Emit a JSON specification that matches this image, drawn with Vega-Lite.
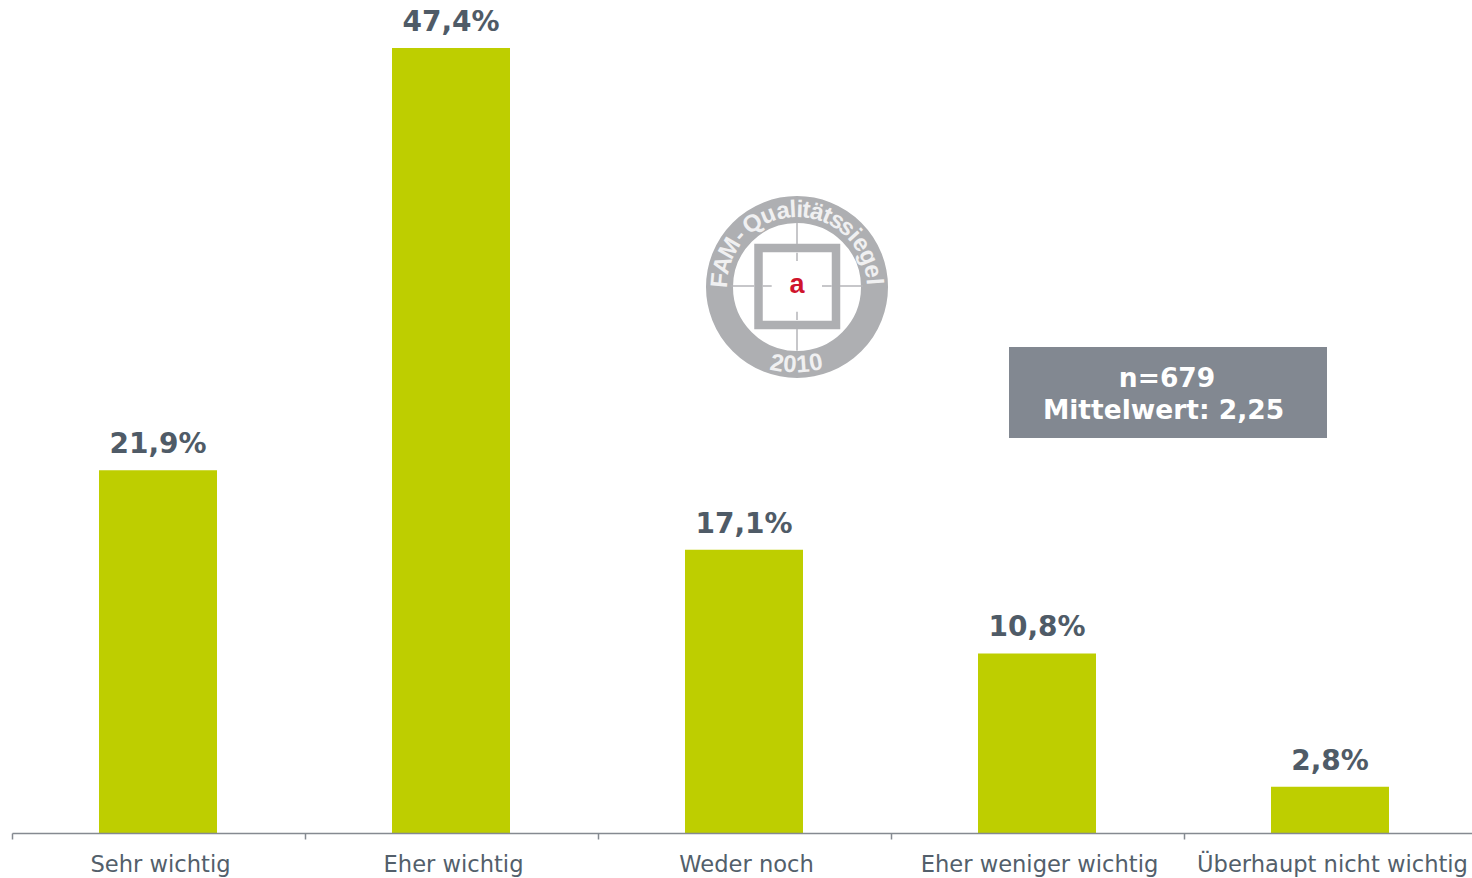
{"$schema":"https://vega.github.io/schema/vega-lite/v6.json","width":1472,"height":833,"autosize":{"type":"none"},"padding":{"left":0,"top":0,"right":0,"bottom":45},"background":"white","config":{"view":{"stroke":null},"text":{"font":"DejaVu Sans"}},
"datasets":{
"bars":[{"category":"Sehr wichtig","share":21.9,"label":"21,9%"},{"category":"Eher wichtig","share":47.4,"label":"47,4%"},{"category":"Weder noch","share":17.1,"label":"17,1%"},{"category":"Eher weniger wichtig","share":10.84,"label":"10,8%"},{"category":"Überhaupt nicht wichtig","share":2.8,"label":"2,8%"}],
"box":[{"gx":1009,"gx2":1327,"gy":347,"gy2":438}],
"boxText":[{"gx":1167,"gy":379,"t":"n=679"},{"gx":1163.5,"gy":411,"t":"Mittelwert: 2,25"}],
"ring":[{"gx":797,"gy":287}],
"square":[{"gx":758.5,"gx2":836,"gy":248,"gy2":325}],
"cross":[{"gx":797,"gx2":797,"gy":223,"gy2":244},{"gx":797,"gx2":797,"gy":252.7,"gy2":261},{"gx":797,"gx2":797,"gy":311.7,"gy2":320},{"gx":797,"gx2":797,"gy":329,"gy2":350.7},{"gx":730.7,"gx2":754,"gy":286,"gy2":286},{"gx":762.7,"gx2":771.7,"gy":286,"gy2":286},{"gx":822,"gx2":831.7,"gy":286,"gy2":286},{"gx":840,"gx2":863,"gy":286,"gy2":286}],
"letters":[{"t":"F","gx":720.3,"gy":280.3,"rot":-85},{"t":"A","gx":723.2,"gy":265.1,"rot":-73.5},{"t":"M","gx":730.3,"gy":248.5,"rot":-60},{"t":"-","gx":739.8,"gy":235.5,"rot":-48},{"t":"Q","gx":752.8,"gy":223.9,"rot":-35},{"t":"u","gx":768.2,"gy":215.6,"rot":-22},{"t":"a","gx":783,"gy":211.3,"rot":-10.5},{"t":"l","gx":793,"gy":210.1,"rot":-3},{"t":"i","gx":799.7,"gy":210.1,"rot":2},{"t":"t","gx":806.4,"gy":210.6,"rot":7},{"t":"ä","gx":816.9,"gy":212.6,"rot":15},{"t":"t","gx":827.1,"gy":216.1,"rot":23},{"t":"s","gx":836.7,"gy":221,"rot":31},{"t":"s","gx":846.5,"gy":228,"rot":40},{"t":"i","gx":854.2,"gy":235.5,"rot":48},{"t":"e","gx":860.8,"gy":244,"rot":56},{"t":"g","gx":867.9,"gy":256.9,"rot":67},{"t":"e","gx":872.3,"gy":271,"rot":78},{"t":"l","gx":873.8,"gy":281.6,"rot":86},{"t":"2","gx":777,"gy":364,"rot":11},{"t":"0","gx":790,"gy":365,"rot":4},{"t":"1","gx":803,"gy":365,"rot":-4},{"t":"0","gx":816,"gy":363,"rot":-11}],
"redA":[{"gx":797,"gy":285,"t":"a"}]
},
"resolve":{"scale":{"x":"independent","y":"independent"},"axis":{"x":"independent","y":"independent"}},
"layer":[
{"data":{"name":"bars"},"mark":{"type":"bar","size":118,"color":"#bece00","xOffset":-0.5},"encoding":{
"x":{"field":"category","type":"nominal","sort":null,"scale":{"range":[12,1477],"paddingInner":0,"paddingOuter":0},"axis":{"title":null,"labelAngle":0,"labelFont":"DejaVu Sans","labelFontSize":22.6,"labelColor":"#535f6b","labelPadding":14,"labelOffset":1.5,"labelLimit":400,"labelOverlap":false,"tickBand":"extent","tickSize":6,"tickColor":"#858a91","tickWidth":1.5,"domainColor":"#858a91","domainWidth":1.5,"grid":false,"zindex":1}},
"y":{"field":"share","type":"quantitative","scale":{"domain":[0,47.4],"range":[833,48]},"axis":null}}},
{"data":{"name":"bars"},"mark":{"type":"text","font":"DejaVu Sans","fontWeight":"bold","fontSize":28,"color":"#4f5b67","baseline":"alphabetic","dy":-17,"dx":-0.5},"encoding":{
"x":{"field":"category","type":"nominal","sort":null,"scale":{"range":[12,1477],"paddingInner":0,"paddingOuter":0},"axis":null},
"y":{"field":"share","type":"quantitative","scale":{"domain":[0,47.4],"range":[833,48]},"axis":null},
"text":{"field":"label"}}},
{"data":{"name":"box"},"mark":{"type":"rect","color":"#828891"},"encoding":{
"x":{"field":"gx","type":"quantitative","scale":{"domain":[0,1472],"range":[0,1472]},"axis":null},"x2":{"field":"gx2"},
"y":{"field":"gy","type":"quantitative","scale":{"domain":[0,833],"range":[0,833]},"axis":null},"y2":{"field":"gy2"}}},
{"data":{"name":"boxText"},"mark":{"type":"text","font":"DejaVu Sans","fontWeight":"bold","fontSize":26.5,"color":"white","baseline":"middle"},"encoding":{
"x":{"field":"gx","type":"quantitative","scale":{"domain":[0,1472],"range":[0,1472]},"axis":null},
"y":{"field":"gy","type":"quantitative","scale":{"domain":[0,833],"range":[0,833]},"axis":null},
"text":{"field":"t"}}},
{"data":{"name":"ring"},"mark":{"type":"point","shape":"circle","filled":false,"size":24025,"strokeWidth":27,"stroke":"#aeafb2","opacity":1},"encoding":{
"x":{"field":"gx","type":"quantitative","scale":{"domain":[0,1472],"range":[0,1472]},"axis":null},
"y":{"field":"gy","type":"quantitative","scale":{"domain":[0,833],"range":[0,833]},"axis":null}}},
{"data":{"name":"square"},"mark":{"type":"rect","fill":"white","stroke":"#aeafb2","strokeWidth":8.5},"encoding":{
"x":{"field":"gx","type":"quantitative","scale":{"domain":[0,1472],"range":[0,1472]},"axis":null},"x2":{"field":"gx2"},
"y":{"field":"gy","type":"quantitative","scale":{"domain":[0,833],"range":[0,833]},"axis":null},"y2":{"field":"gy2"}}},
{"data":{"name":"cross"},"mark":{"type":"rule","color":"#b4b5b8","strokeWidth":1.5},"encoding":{
"x":{"field":"gx","type":"quantitative","scale":{"domain":[0,1472],"range":[0,1472]},"axis":null},"x2":{"field":"gx2"},
"y":{"field":"gy","type":"quantitative","scale":{"domain":[0,833],"range":[0,833]},"axis":null},"y2":{"field":"gy2"}}},
{"data":{"name":"letters"},"mark":{"type":"text","font":"Liberation Sans","fontWeight":"bold","fontSize":24,"color":"#f0f0f1","baseline":"middle"},"encoding":{
"x":{"field":"gx","type":"quantitative","scale":{"domain":[0,1472],"range":[0,1472]},"axis":null},
"y":{"field":"gy","type":"quantitative","scale":{"domain":[0,833],"range":[0,833]},"axis":null},
"text":{"field":"t"},"angle":{"field":"rot","type":"quantitative","scale":null}}},
{"data":{"name":"redA"},"mark":{"type":"text","font":"Liberation Sans","fontWeight":"bold","fontSize":27,"color":"#d0142c","baseline":"middle"},"encoding":{
"x":{"field":"gx","type":"quantitative","scale":{"domain":[0,1472],"range":[0,1472]},"axis":null},
"y":{"field":"gy","type":"quantitative","scale":{"domain":[0,833],"range":[0,833]},"axis":null},
"text":{"field":"t"}}}
]}
